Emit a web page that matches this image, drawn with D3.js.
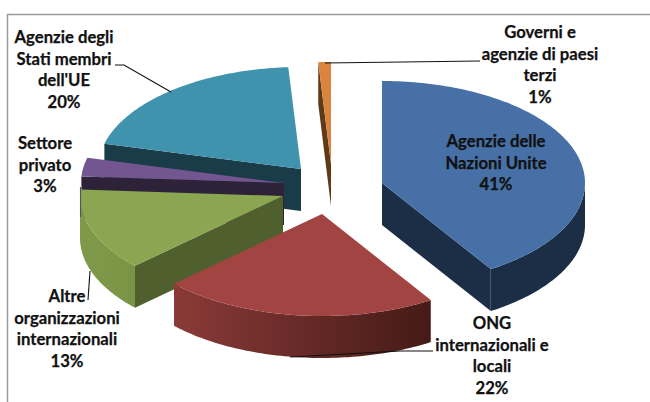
<!DOCTYPE html>
<html><head><meta charset="utf-8">
<script src="https://cdn.jsdelivr.net/npm/d3@7/dist/d3.min.js"></script>
<style>html,body{margin:0;padding:0;background:#fff}svg{display:block}text{font-family:Lato,"Open Sans",sans-serif;font-weight:700;font-size:16.7px;fill:#111;stroke:#111;stroke-width:.25px;text-anchor:middle}</style>
</head><body>
<script>
const categories = ["Agenzie delle Nazioni Unite","ONG internazionali e locali","Altre organizzazioni internazionali","Settore privato","Agenzie degli Stati membri dell'UE","Governi e agenzie di paesi terzi"];
const values = [41,22,13,3,20,1];
const labelLines = [["Agenzie delle","Nazioni Unite","41%"],["ONG","internazionali e","locali","22%"],["Altre","organizzazioni","internazionali","13%"],["Settore","privato","3%"],["Agenzie degli","Stati membri","dell'UE","20%"],["Governi e","agenzie di paesi","terzi","1%"]];
const topColors = ["#4670A6","#A24442","#8AA650","#73558F","#3F93AD","#DB843D"];
const wallColors = ["#1B2E46","#4A1C18","#4F5F2D","#2D2238","#1A3B48","#5F3A17"];
const outerStops = [["#1B2E46","#1B2E46"],["#8A3A38","#451A16"],["#7E9A49","#7A9446"],["#2D2238","#2D2238"],["#1A3B48","#1A3B48"],["#5F3A17","#5F3A17"]];
const apexes = [[382,183],[322,214],[283,196],[284,183],[301,169],[331,164]];
const labelPos = [[496,147],[492,329],[67,302],[45,149],[64,43],[540,38]];
const leaders = [[[115,65],[124,65],[171,92]],[[433,351],[400,351],[290,357]],[[90,271],[88,300]],[[80.5,187],[80.5,217]],[[480,61],[325,63]]];
const RX=203, RY=102, DEPTH=42, LH=21.7;

const svg=d3.select("body").append("svg").attr("width",650).attr("height",402);
const defs=svg.append("defs");
// chart frame
svg.append("path").attr("d","M650,14.5H7.5V402").attr("fill","none").attr("stroke","#9a9a9a").attr("stroke-width",1.5);

const arcs=d3.pie().sort(null).value(d=>d)(values);
const line=d3.line();
const pt=(i,a,dz=0)=>[apexes[i][0]+RX*Math.sin(a),apexes[i][1]-RY*Math.cos(a)+dz];
const sample=(a0,a1)=>{const n=Math.max(2,Math.ceil((a1-a0)/0.02));return d3.range(n+1).map(k=>a0+(a1-a0)*k/n);};

const order=[5,4,3,2,1,0];
order.forEach(i=>{
  const {startAngle:s,endAngle:e}=arcs[i];
  const g=svg.append("g");
  const ap=apexes[i];
  const quad=(a)=>[ap,pt(i,a),pt(i,a,DEPTH),[ap[0],ap[1]+DEPTH]];
  if(Math.sin(s)<0) g.append("path").attr("d",line(quad(s))+"Z").attr("fill",wallColors[i]);
  if(Math.sin(e)>0) g.append("path").attr("d",line(quad(e))+"Z").attr("fill",wallColors[i]);
  // outer curved wall (front half only)
  const a0=Math.max(s,Math.PI/2), a1=Math.min(e,Math.PI*1.5);
  if(a1>a0){
    const as=sample(a0,a1);
    const pts=as.map(a=>pt(i,a)).concat(as.slice().reverse().map(a=>pt(i,a,DEPTH)));
    const xs=pts.map(p=>p[0]);
    const grad=defs.append("linearGradient").attr("id","g"+i).attr("gradientUnits","userSpaceOnUse")
      .attr("x1",d3.min(xs)).attr("x2",d3.max(xs)).attr("y1",0).attr("y2",0);
    grad.append("stop").attr("offset",0).attr("stop-color",outerStops[i][0]);
    grad.append("stop").attr("offset",1).attr("stop-color",outerStops[i][1]);
    g.append("path").attr("d",line(pts)+"Z").attr("fill",`url(#g${i})`);
  }
  // top face
  g.append("path").attr("d",line([ap].concat(sample(s,e).map(a=>pt(i,a))))+"Z").attr("fill",topColors[i]);
});

// leader lines
leaders.forEach((l,k)=>svg.append("path").attr("d",line(l)).attr("fill","none").attr("stroke",k===3?"#555":"#111").attr("stroke-width",1.1));

// labels
labelLines.forEach((ls,i)=>{
  const t=svg.append("text");
  ls.forEach((s,k)=>t.append("tspan").attr("x",labelPos[i][0]).attr("y",labelPos[i][1]+k*LH).text(s));
});
</script>
</body></html>
